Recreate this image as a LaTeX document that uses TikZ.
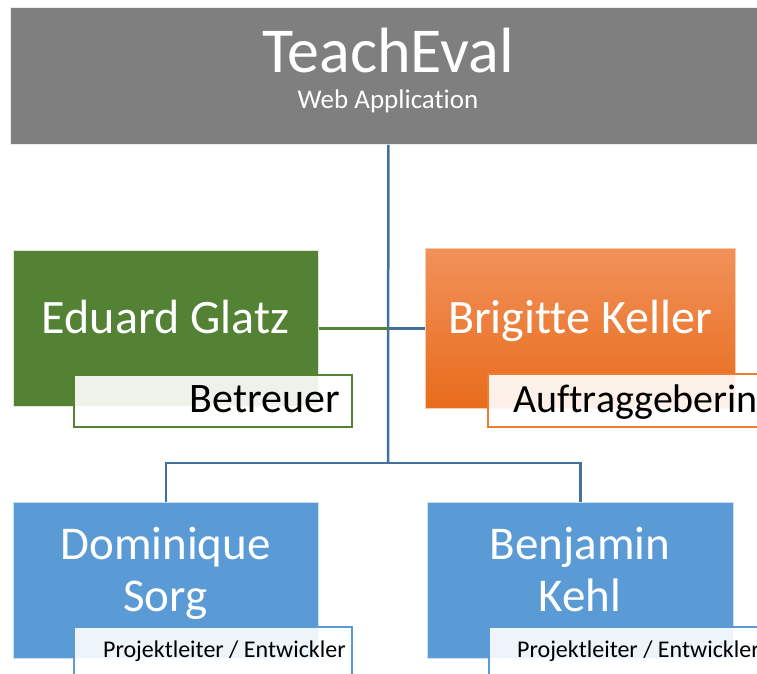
\documentclass[tikz,border=0pt]{standalone}
\usepackage{fontspec}
\setmainfont{Carlito}[Ligatures={NoCommon}]
\definecolor{grayTop}{HTML}{7F7F7F}
\definecolor{connBlue}{HTML}{41719C}
\definecolor{boxGreen}{HTML}{548235}
\definecolor{orTop}{HTML}{F1915A}
\definecolor{orBot}{HTML}{E86C1C}
\definecolor{orEdge}{HTML}{ED7D31}
\definecolor{boxBlue}{HTML}{5B9BD5}
\tikzset{
  boxnode/.style={rectangle, inner sep=0pt, anchor=north west, line width=0.8pt},
  labelbox/.style={rectangle, inner sep=0pt, anchor=north west, fill=white, fill opacity=0.9, line width=1.8pt},
  conn/.style={connBlue, line width=2.5pt},
  txt/.style={inner sep=0pt, anchor=base},
}
\newcommand{\fs}[1]{\fontsize{#1}{#1}\selectfont}
\begin{document}
\begin{tikzpicture}[x=1pt,y=-1pt]
\useasboundingbox (0,0) rectangle (757,673);
\clip (0,0) rectangle (757,673);
% top box
\node[boxnode, fill=grayTop, draw=white!85!grayTop, minimum width=756pt, minimum height=137pt] (top) at (10,7) {};
\node[txt, text=white] (title) at (388,72) {\fs{64}TeachEval};
\node[txt, text=white] (sub) at (388,108) {\fs{27}Web Application};
% boxes
\node[boxnode, fill=boxGreen, draw=white!80!boxGreen, minimum width=305pt, minimum height=156pt] (egl) at (13,250) {};
\node[boxnode, shade, top color=orTop, bottom color=orBot, draw=white!60!orEdge, minimum width=310pt, minimum height=160pt] (bkl) at (425,248) {};
\node[boxnode, fill=boxBlue, draw=white!70!boxBlue, minimum width=305pt, minimum height=156pt] (dso) at (13,502) {};
\node[boxnode, fill=boxBlue, draw=white!70!boxBlue, minimum width=306pt, minimum height=156pt] (bke) at (427,502) {};
% connectors
\coordinate (fork) at (388,463);
\coordinate (hub) at (top.south |- egl.east);
\draw[conn] (top.south) -- (fork);
\draw[conn] (fork) -| (dso.north);
\draw[conn] (fork) -| (bke.north);
\draw[boxGreen, line width=2.5pt] (egl.east) -- (hub);
\draw[conn] (hub) -- (bkl.west);
% names
\node[txt, text=white] (egltxt) at (165.5,333) {\fs{48}Eduard Glatz};
\node[txt, text=white] (bkltxt) at (580,333) {\fs{48}Brigitte Keller};
\node[txt, text=white] (dsotxt1) at (165.5,559) {\fs{47}Dominique};
\node[txt, text=white] (dsotxt2) at (165.5,611) {\fs{47}Sorg};
\node[txt, text=white] (bketxt1) at (580,559) {\fs{47}Benjamin};
\node[txt, text=white] (bketxt2) at (580,611) {\fs{47}Kehl};
% label boxes
\node[labelbox, draw=boxGreen, minimum width=278pt, minimum height=52pt] (eglrole) at (73,374) {};
\node[labelbox, draw=orEdge, minimum width=290pt, minimum height=53pt] (bklrole) at (487,373) {};
\node[labelbox, draw=boxBlue, minimum width=278pt, minimum height=60pt] (dsorole) at (73,626) {};
\node[labelbox, draw=boxBlue, minimum width=290pt, minimum height=60pt] (bkerole) at (488,626) {};
\node[inner sep=0pt, anchor=base east] (eglroletxt) at (340,412) {\fs{42}Betreuer};
\node[inner sep=0pt, anchor=base west] (bklroletxt) at (513,412) {\fs{40}Auftraggeberin};
\node[inner sep=0pt, anchor=base west] (dsoroletxt) at (103,657) {\fs{24}Projektleiter / Entwickler};
\node[inner sep=0pt, anchor=base west] (bkeroletxt) at (517,657) {\fs{24}Projektleiter / Entwickler};
\end{tikzpicture}
\end{document}
